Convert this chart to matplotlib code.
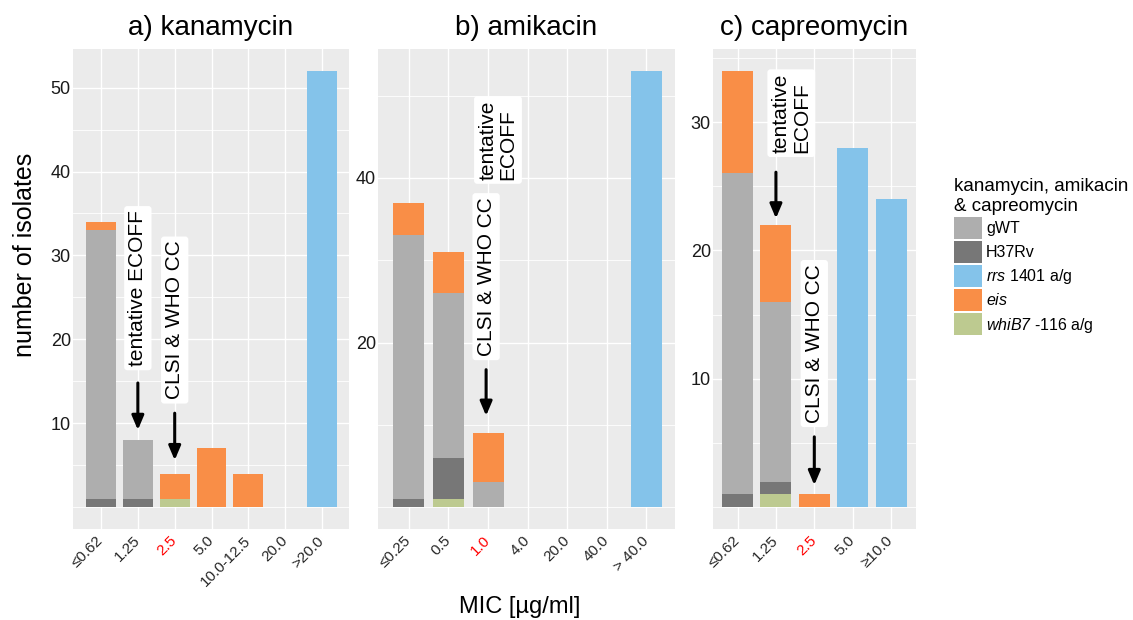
import matplotlib
matplotlib.use("Agg")
import matplotlib.pyplot as plt
from matplotlib.patches import Patch
import numpy as np

plt.rcParams['font.family'] = ['Liberation Sans', 'DejaVu Sans']
plt.rcParams['mathtext.fontset'] = 'custom'
plt.rcParams['mathtext.rm'] = 'Liberation Sans:italic'
plt.rcParams['mathtext.it'] = 'Liberation Sans:italic'

# ---------------- data ----------------
series_names = ['whiB7', 'H37Rv', 'gWT', 'eis', 'rrs']   # stacking order bottom -> top

kan_cats = ['≤0.62', '1.25', '2.5', '5.0', '10.0-12.5', '20.0', '>20.0']
kan_whiB7 = [0, 0, 1, 0, 0, 0, 0]
kan_H37Rv = [1, 1, 0, 0, 0, 0, 0]
kan_gWT = [32, 7, 0, 0, 0, 0, 0]
kan_eis = [1, 0, 3, 7, 4, 0, 0]
kan_rrs = [0, 0, 0, 0, 0, 0, 52]

ami_cats = ['≤0.25', '0.5', '1.0', '4.0', '20.0', '40.0', '> 40.0']
ami_whiB7 = [0, 1, 0, 0, 0, 0, 0]
ami_H37Rv = [1, 5, 0, 0, 0, 0, 0]
ami_gWT = [32, 20, 3, 0, 0, 0, 0]
ami_eis = [4, 5, 6, 0, 0, 0, 0]
ami_rrs = [0, 0, 0, 0, 0, 0, 53]

cap_cats = ['≤0.62', '1.25', '2.5', '5.0', '≥10.0']
cap_whiB7 = [0, 1, 0, 0, 0]
cap_H37Rv = [1, 1, 0, 0, 0]
cap_gWT = [25, 14, 0, 0, 0]
cap_eis = [8, 6, 1, 0, 0]
cap_rrs = [0, 0, 0, 28, 24]

titles = ['a) kanamycin', 'b) amikacin', 'c) capreomycin']
red_ticks = ['2.5', '1.0', '2.5']

legend_order = ['gWT', 'H37Rv', 'rrs', 'eis', 'whiB7']
legend_labels = ['gWT', 'H37Rv', r'$\it{rrs}$ 1401 a/g', r'$\it{eis}$', r'$\it{whiB7}$ -116 a/g']
colors = {'gWT': '#AEAEAE', 'H37Rv': '#777777', 'rrs': '#84C3EA',
          'eis': '#F98E47', 'whiB7': '#BDCA90'}

# ---------------- layout ----------------
W, H = 1133, 620
fig = plt.figure(figsize=(W / 100, H / 100), dpi=100)

def ax_at(l, r, t, b):
    return fig.add_axes([l / W, 1 - b / H, (r - l) / W, (b - t) / H])

axes = [ax_at(73, 349, 49, 529), ax_at(378, 675, 49, 529), ax_at(713, 916, 49, 529)]

panels = [
    dict(cats=kan_cats, data=dict(whiB7=kan_whiB7, H37Rv=kan_H37Rv, gWT=kan_gWT, eis=kan_eis, rrs=kan_rrs),
         xlim=(-0.76, 6.73), ylim=(-2.6, 54.6), width=0.81,
         major=[10, 20, 30, 40, 50], minor=[0, 5, 15, 25, 35, 45]),
    dict(cats=ami_cats, data=dict(whiB7=ami_whiB7, H37Rv=ami_H37Rv, gWT=ami_gWT, eis=ami_eis, rrs=ami_rrs),
         xlim=(-0.78, 6.72), ylim=(-2.65, 55.65), width=0.78,
         major=[20, 40], minor=[0, 10, 30, 50]),
    dict(cats=cap_cats, data=dict(whiB7=cap_whiB7, H37Rv=cap_H37Rv, gWT=cap_gWT, eis=cap_eis, rrs=cap_rrs),
         xlim=(-0.64, 4.65), ylim=(-1.7, 35.7), width=0.81,
         major=[10, 20, 30], minor=[0, 5, 15, 25, 35]),
]

for ax, p, title, red in zip(axes, panels, titles, red_ticks):
    n = len(p['cats'])
    x = np.arange(n)
    bottom = np.zeros(n)
    for s in series_names:
        vals = np.array(p['data'][s], dtype=float)
        ax.bar(x, vals, bottom=bottom, width=p['width'], color=colors[s], linewidth=0, zorder=2)
        bottom += vals
    ax.set_facecolor('#EBEBEB')
    for sp in ax.spines.values():
        sp.set_visible(False)
    ax.set_xlim(*p['xlim'])
    ax.set_ylim(*p['ylim'])
    ax.set_xticks(x)
    ax.set_xticklabels(p['cats'])
    ax.set_yticks(p['major'])
    ax.set_yticks(p['minor'], minor=True)
    ax.grid(True, which='major', color='white', lw=1.0, zorder=0)
    ax.grid(True, which='minor', axis='y', color='white', lw=0.6, zorder=0)
    ax.set_axisbelow(True)
    ax.tick_params(axis='y', which='both', length=0, pad=1.5, labelsize=13, labelcolor='#1a1a1a')
    ax.tick_params(axis='x', which='both', length=0, pad=7, labelsize=11, labelcolor='#262626')
    for lab in ax.get_xticklabels():
        lab.set_rotation(45)
        lab.set_ha('right')
        lab.set_va('center')
        lab.set_rotation_mode('anchor')
        if lab.get_text() == red:
            lab.set_color('red')
    ax.set_title(title, fontsize=20, pad=10)

box = dict(boxstyle='round,pad=0.2,rounding_size=0.15', fc='white', ec='none')
arrow = dict(arrowstyle='-|>,head_length=0.85,head_width=0.36', color='black', lw=2.2,
             shrinkA=0, shrinkB=0, mutation_scale=10)

def label(ax, x, y, s):
    ax.text(x, y, s, rotation=90, ha='center', va='center', fontsize=15, bbox=box,
            multialignment='left', linespacing=1.1, zorder=5)

def arr(ax, x, y0, y1):
    ax.annotate('', xy=(x, y1), xytext=(x, y0), arrowprops=arrow, zorder=5)

# panel a
label(axes[0], 1.0, 26.1, 'tentative ECOFF')
arr(axes[0], 1.0, 14.8, 9.2)
label(axes[0], 2.0, 22.3, 'CLSI & WHO CC')
arr(axes[0], 2.0, 11.2, 5.6)
# panel b
label(axes[1], 2.25, 44.6, 'tentative\nECOFF')
label(axes[1], 1.95, 28.0, 'CLSI & WHO CC')
arr(axes[1], 1.95, 16.7, 11.1)
# panel c
label(axes[2], 1.4, 30.7, 'tentative\nECOFF')
arr(axes[2], 1.0, 26.1, 22.5)
label(axes[2], 2.0, 12.75, 'CLSI & WHO CC')
arr(axes[2], 2.0, 5.48, 1.72)

fig.text(25 / W, 1 - 255 / H, 'number of isolates', rotation=90, ha='center', va='center', fontsize=18)
fig.text(520 / W, 1 - 607 / H, 'MIC [µg/ml]', ha='center', va='center', fontsize=17)

handles = [Patch(facecolor=colors[k], edgecolor='none') for k in legend_order]
fig.legend(handles, legend_labels, loc='upper left', bbox_to_anchor=(954 / W, 1 - 178 / H),
           frameon=False, title='kanamycin, amikacin\n& capreomycin', title_fontsize=13.5,
           fontsize=11.5, handlelength=1.75, handleheight=1.75, labelspacing=0.13,
           handletextpad=0.25, borderpad=0, borderaxespad=0, alignment='left')

fig.savefig('out.png', dpi=100)
